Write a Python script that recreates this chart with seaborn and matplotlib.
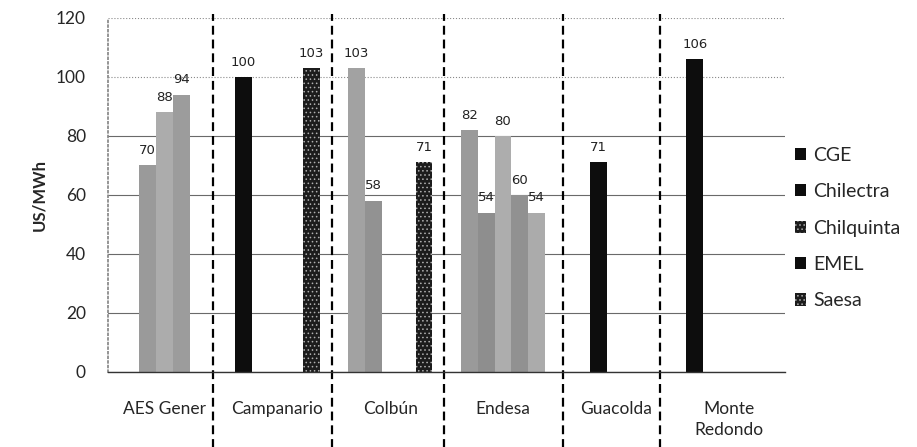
import matplotlib
matplotlib.use("Agg")
import matplotlib.pyplot as plt
import pandas as pd
import seaborn as sns
from matplotlib.patches import Patch
from matplotlib.transforms import blended_transform_factory

# generation companies (x groups) and distribution companies (hue)
GENERATORS = ["AES Gener", "Campanario", "Colbún", "Endesa", "Guacolda", "Monte Redondo"]
TICK_LABELS = ["AES Gener", "Campanario", "Colbún", "Endesa", "Guacolda", "Monte\nRedondo"]
DISTRIBUTORS = ["CGE", "Chilectra", "Chilquinta", "EMEL", "Saesa"]

# US/MWh per generator, one list per distributor (None = no contract)
CGE = [None, 100, 103, 82, None, 106]
CHILECTRA = [70, None, 58, 54, 71, None]
CHILQUINTA = [88, None, None, 80, None, None]
EMEL = [94, None, None, 60, None, None]
SAESA = [None, 103, 71, 54, None, None]

# hand drawn group separators (category units)
SEPARATORS = [0.43, 1.48, 2.48, 3.53, 4.39]

# the scanned original renders bars in these shades
BAR_SHADE = {
    ("AES Gener", "Chilectra"): "#9a9a9a",
    ("AES Gener", "Chilquinta"): "#acacac",
    ("AES Gener", "EMEL"): "#9c9c9c",
    ("Campanario", "CGE"): "black",
    ("Campanario", "Saesa"): "speckle",
    ("Colbún", "CGE"): "#a2a2a2",
    ("Colbún", "Chilectra"): "#929292",
    ("Colbún", "Saesa"): "speckle",
    ("Endesa", "CGE"): "#9a9a9a",
    ("Endesa", "Chilectra"): "#8e8e8e",
    ("Endesa", "Chilquinta"): "#adadad",
    ("Endesa", "EMEL"): "#919191",
    ("Endesa", "Saesa"): "#ababab",
    ("Guacolda", "Chilectra"): "black",
    ("Monte Redondo", "CGE"): "black",
}
LEGEND_SHADE = ["black", "black", "speckle", "black", "speckle"]


def style_patch(patch, shade):
    if shade == "speckle":
        patch.set_facecolor("#1c1c1c")
        patch.set_edgecolor("#b0b0b0")
        patch.set_hatch("....")
        patch.set_linewidth(0)
    elif shade == "black":
        patch.set_facecolor("#0d0d0d")
        patch.set_edgecolor("#0d0d0d")
        patch.set_linewidth(0)
    else:
        patch.set_facecolor(shade)
        patch.set_edgecolor(shade)
        patch.set_linewidth(0)


def main() -> None:
    series = {"CGE": CGE, "Chilectra": CHILECTRA, "Chilquinta": CHILQUINTA, "EMEL": EMEL, "Saesa": SAESA}
    rows = []
    for dist, values in series.items():
        for gen, v in zip(GENERATORS, values):
            if v is not None:
                rows.append({"generator": gen, "distributor": dist, "price": v})
    df = pd.DataFrame(rows)

    sns.set_theme(style="white")
    plt.rcParams["font.family"] = ["Lato", "DejaVu Sans"]
    plt.rcParams["hatch.linewidth"] = 0.6

    fig = plt.figure(figsize=(9.17, 4.47), dpi=100)
    ax = fig.add_axes([0.118, 0.168, 0.738, 0.792])

    sns.barplot(data=df, x="generator", y="price", hue="distributor",
                order=GENERATORS, hue_order=DISTRIBUTORS, width=0.75,
                palette=["#444444"] * 5, legend=False, ax=ax, errorbar=None)

    for dist, cont in zip(DISTRIBUTORS, ax.containers):
        for bar in cont:
            gen = GENERATORS[int(round(bar.get_x() + bar.get_width() / 2))]
            style_patch(bar, BAR_SHADE.get((gen, dist), "#9a9a9a"))
        ax.bar_label(cont, padding=6, fontsize=9.5, family="DejaVu Sans", color="#222222")

    ax.set_ylim(0, 120)
    ax.set_xlim(-0.5, len(GENERATORS) - 0.5)
    ax.set_yticks(range(0, 121, 20))
    ax.yaxis.grid(True, color="#6a6a6a", linewidth=0.8)
    ax.set_axisbelow(True)
    # upper gridlines come out faint and dotted in the scan
    for tick_val, gl in zip(ax.get_yticks(), ax.get_ygridlines()):
        if tick_val >= 100:
            gl.set_linestyle(":")
            gl.set_color("#8a8a8a")
    ax.set_xticks(range(len(GENERATORS)))
    ax.set_xticklabels(TICK_LABELS, fontsize=12.5, linespacing=1.4)
    ax.tick_params(axis="x", length=0, pad=21)
    ax.tick_params(axis="y", length=0, labelsize=12.5, pad=16)
    ax.set_xlabel("")
    ax.set_ylabel("US/MWh", fontsize=12, fontweight="bold", labelpad=6)

    for side in ["top", "right"]:
        ax.spines[side].set_visible(False)
    ax.spines["left"].set_color("#888888")
    ax.spines["left"].set_linestyle(":")
    ax.spines["bottom"].set_color("#333333")
    ax.spines["bottom"].set_linewidth(1.0)

    trans = blended_transform_factory(ax.transData, ax.transAxes)
    for sx in SEPARATORS:
        ax.plot([sx, sx], [-0.22, 1.01], transform=trans, clip_on=False,
                color="black", linewidth=1.6, linestyle=(0, (4, 2.2)))

    handles = []
    for shade in LEGEND_SHADE:
        p = Patch()
        style_patch(p, shade)
        handles.append(p)
    fig.legend(handles, DISTRIBUTORS, loc="upper left", bbox_to_anchor=(0.848, 0.711),
               frameon=False, fontsize=14, handlelength=0.55, handleheight=0.6,
               handletextpad=0.4, labelspacing=1.0)

    fig.savefig("out.png", dpi=100)
    plt.close(fig)


if __name__ == "__main__":
    main()
